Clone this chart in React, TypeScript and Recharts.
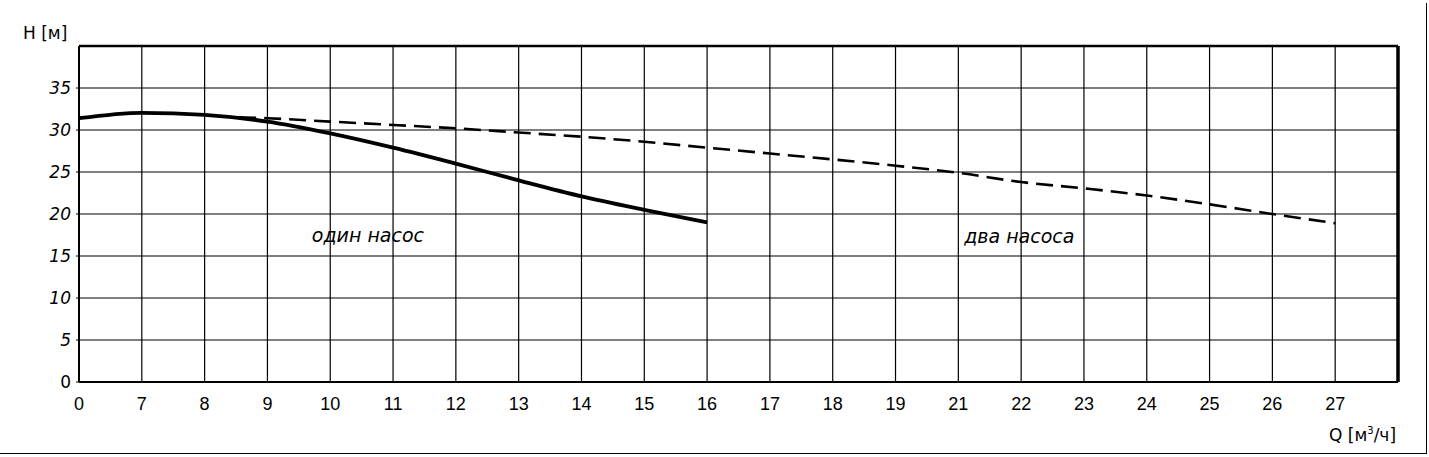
import React from 'react';
import { LineChart, Line, XAxis, YAxis, CartesianGrid, ReferenceLine, ReferenceDot } from 'recharts';

// Q tick labels (evenly spaced positions 0..20 on the drawing)
const qTickLabels = ['0', '7', '8', '9', '10', '11', '12', '13', '14', '15', '16', '17', '18', '19', '21', '22', '23', '24', '25', '26', '27'];
const hTicks = [0, 5, 10, 15, 20, 25, 30, 35];

// один насос (positions are indices into qTickLabels)
const onePumpPos = [0, 1, 2, 3, 4, 5, 6, 7, 8, 9, 10];
const onePumpH = [31.4, 32.05, 31.8, 31.0, 29.6, 27.9, 26.0, 24.0, 22.1, 20.5, 19.0];

// два насоса
const twoPumpPos = [2.55, 3, 4, 5, 6, 7, 8, 9, 10, 11, 12, 13, 14, 15, 16, 17, 18, 19, 20];
const twoPumpH = [31.5, 31.4, 31.0, 30.6, 30.2, 29.7, 29.2, 28.6, 27.9, 27.2, 26.5, 25.75, 24.9, 23.8, 23.05, 22.2, 21.15, 20.0, 18.9];

// curve captions
const captionText = ['один насос', 'два насоса'];
const captionPos = [4.6, 14.97];
const captionH = [17.5, 17.4];

const onePump = onePumpPos.map((x, i) => ({ x, h: onePumpH[i] }));
const twoPump = twoPumpPos.map((x, i) => ({ x, h: twoPumpH[i] }));
const xTicks = qTickLabels.map((_, i) => i);

const YTick = (props: any) => {
  const { x, y, payload } = props;
  const v = payload.value;
  return (
    <text
      x={x}
      y={y}
      dy="0.36em"
      textAnchor="end"
      fontFamily="DejaVu Sans"
      fontSize={17}
      fontStyle={v === 0 ? 'normal' : 'italic'}
      fill="#000"
    >
      {v}
    </text>
  );
};

const XTick = (props: any) => {
  const { x, y, payload } = props;
  return (
    <text x={x} y={y} dy="0.72em" textAnchor="middle" fontFamily="Liberation Sans" fontSize={18} fill="#000">
      {qTickLabels[payload.value]}
    </text>
  );
};

export default function App() {
  return (
    <div style={{ position: 'absolute', left: 0, top: 0, width: 1429, height: 457, background: '#fff' }}>
      <LineChart width={1429} height={457} margin={{ top: 46, right: 31, bottom: 0, left: 0 }}>
        <CartesianGrid stroke="#000" strokeWidth={1.2} />
        <XAxis
          type="number"
          dataKey="x"
          domain={[0, 21]}
          ticks={xTicks}
          interval={0}
          height={75}
          tickLine={false}
          tickMargin={9}
          axisLine={{ stroke: '#000', strokeWidth: 2 }}
          tick={<XTick />}
          allowDataOverflow
        />
        <YAxis
          type="number"
          dataKey="h"
          domain={[0, 40]}
          ticks={hTicks}
          interval={0}
          width={79}
          tickSize={3}
          tickMargin={5}
          tickLine={{ stroke: '#000' }}
          axisLine={{ stroke: '#000', strokeWidth: 2 }}
          tick={<YTick />}
          allowDataOverflow
        />
        <ReferenceLine y={40} stroke="#000" strokeWidth={2.5} />
        <ReferenceLine x={21} stroke="#000" strokeWidth={3.5} />
        <Line
          data={twoPump}
          dataKey="h"
          type="monotone"
          stroke="#000"
          strokeWidth={2.6}
          strokeDasharray="17 8"
          dot={false}
          isAnimationActive={false}
        />
        <Line
          data={onePump}
          dataKey="h"
          type="monotone"
          stroke="#000"
          strokeWidth={3.8}
          dot={false}
          isAnimationActive={false}
        />
        {captionText.map((t, i) => (
          <ReferenceDot
            key={t}
            x={captionPos[i]}
            y={captionH[i]}
            r={0}
            fill="none"
            stroke="none"
            label={{ value: t, position: 'center', fontSize: 19, fontStyle: 'italic', fill: '#000', fontFamily: 'DejaVu Sans' }}
          />
        ))}
      </LineChart>
      <div style={{ position: 'absolute', left: 23, top: 23, fontFamily: 'DejaVu Sans', fontSize: 17, lineHeight: '20px', color: '#000' }}>
        H [м]
      </div>
      <div style={{ position: 'absolute', left: 1329, top: 421, fontFamily: 'DejaVu Sans', fontSize: 17, lineHeight: '20px', color: '#000', whiteSpace: 'nowrap' }}>
        Q [м<sup style={{ fontSize: 10 }}>3</sup>/ч]
      </div>
      <div style={{ position: 'absolute', left: 1426, top: 3, width: 1, height: 451, background: '#000' }} />
      <div style={{ position: 'absolute', left: 0, top: 453, width: 1427, height: 1, background: '#000' }} />
    </div>
  );
}
